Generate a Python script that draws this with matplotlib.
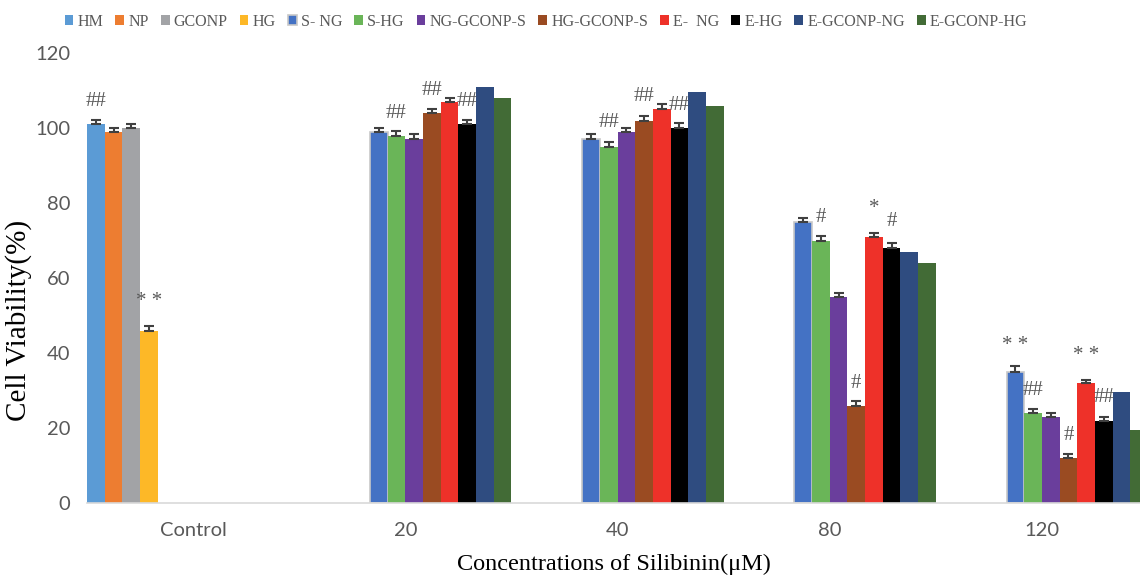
import matplotlib.pyplot as plt
import numpy as np

# categories and series
categories = ["Control", "20", "40", "80", "120"]
series = ["HM", "NP", "GCONP", "HG", "S- NG", "S-HG", "NG-GCONP-S",
          "HG-GCONP-S", "E-  NG", "E-HG", "E-GCONP-NG", "E-GCONP-HG"]
colors = ["#5B9BD5", "#ED7D31", "#A2A3A6", "#FDB827", "#4472C4", "#6AB558",
          "#6A3E9C", "#9A4B22", "#EE3129", "#000000", "#2F4C80", "#426B36"]

nan = np.nan
# cell viability (%) per series, one value per category
hm = [101, nan, nan, nan, nan]
np_ = [99, nan, nan, nan, nan]
gconp = [100, nan, nan, nan, nan]
hg = [46, nan, nan, nan, nan]
s_ng = [nan, 99, 97, 75, 35]
s_hg = [nan, 98, 95, 70, 24]
ng_gconp_s = [nan, 97, 99, 55, 23]
hg_gconp_s = [nan, 104, 102, 26, 12]
e_ng = [nan, 107, 105, 71, 32]
e_hg = [nan, 101, 100, 68, 22]
e_gconp_ng = [nan, 111, 109.5, 67, 29.5]
e_gconp_hg = [nan, 108, 106, 64, 19.5]
values = [hm, np_, gconp, hg, s_ng, s_hg, ng_gconp_s, hg_gconp_s,
          e_ng, e_hg, e_gconp_ng, e_gconp_hg]

# error bars (None = no error bar drawn)
errors = [[1.1, 0, 0, 0, 0], [0.9, 0, 0, 0, 0], [1.2, 0, 0, 0, 0],
          [1.2, 0, 0, 0, 0], [0, 1.1, 1.5, 1.1, 1.6], [0, 1.1, 1.2, 1.1, 1.1],
          [0, 1.3, 0.9, 1.1, 1.1], [0, 1.1, 1.1, 1.1, 1.1],
          [0, 1.1, 1.4, 1.1, 0.9], [0, 1.1, 1.3, 1.3, 0.9], None, None]

# significance marks: (category, series, text, y)
marks = [(0, 0, "##", 107), (0, 3, "* *", 53.6),
         (1, 5, "##", 104), (1, 7, "##", 110), (1, 9, "##", 107),
         (2, 5, "##", 101.4), (2, 7, "##", 108.5), (2, 9, "##", 105.9),
         (3, 5, "#", 76), (3, 7, "#", 31.9), (3, 8, "*", 78.5), (3, 9, "#", 75),
         (4, 4, "* *", 42.1), (4, 5, "##", 30.1), (4, 7, "#", 18.1),
         (4, 8, "* *", 39.3), (4, 9, "##", 28.2)]

serif = "Liberation Serif"
grey = "#595959"

fig = plt.figure(figsize=(11.4, 5.75), dpi=100)
ax = fig.add_axes([87 / 1140, 1 - 503 / 575, 1 - 87 / 1140, 450 / 575])

n = len(series)
w = 1.0 / n
x = np.arange(len(categories))
for i, (name, vals, col, err) in enumerate(zip(series, values, colors, errors)):
    pos = x + (i - (n - 1) / 2) * w
    ec = "#C8C8C8" if name == "S- NG" else col
    lw = 1.2 if name == "S- NG" else 0
    ax.bar(pos, vals, width=w, color=col, edgecolor=ec, linewidth=lw, label=name)
    if err is not None:
        v = np.array(vals, dtype=float)
        e = np.array(err, dtype=float)
        ok = ~np.isnan(v)
        ax.errorbar(pos[ok], v[ok], yerr=[np.zeros(ok.sum()), e[ok]], fmt="none",
                    ecolor="#404040", elinewidth=1.5, capsize=3.5, capthick=1.5)

for c, s, txt, y in marks:
    ax.text(c + (s - (n - 1) / 2) * w, y, txt, ha="center", va="center",
            fontsize=15, family=serif, color=grey)

ax.set_xlim(-0.5, 4.462)
ax.set_ylim(0, 120)
ax.set_yticks(range(0, 121, 20))
ax.set_xticks(x)
ax.set_xticklabels(categories)
for sp in ["top", "right", "left"]:
    ax.spines[sp].set_visible(False)
ax.spines["bottom"].set_color("#D9D9D9")
ax.spines["bottom"].set_linewidth(1.2)
ax.tick_params(axis="both", length=0, labelsize=14.5, labelcolor=grey)
ax.tick_params(axis="x", pad=14)
ax.tick_params(axis="y", pad=12)
for lab in ax.get_xticklabels() + ax.get_yticklabels():
    lab.set_family("Lato")

ax.set_xlabel("Concentrations of Silibinin(μM)", family=serif, fontsize=17.5,
              color="black", labelpad=10)
ax.set_ylabel("Cell Viability(%)", family=serif, fontsize=21, color="black")
ax.yaxis.set_label_coords(-0.052, 0.405)

fig.legend(loc="center", bbox_to_anchor=(0.479, 0.962), ncol=n, frameon=False,
           prop={"family": serif, "size": 11.5}, labelcolor=grey,
           handlelength=0.55, handleheight=0.55, handletextpad=0.25,
           columnspacing=0.76, borderaxespad=0)

fig.savefig("out.png", dpi=100)
